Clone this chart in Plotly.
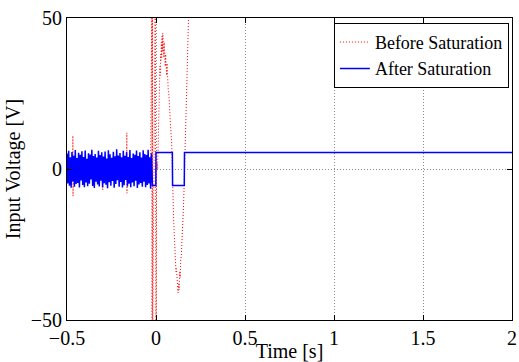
import numpy as np
import plotly.graph_objects as go

# ---------------- data ----------------
# Blue: saturated input (noise before t=-0.02, then switching +/-5.5)
blue_noise_vals = [
    5.1, -4.8, 6.0, -5.5, 3.9, -6.2, 5.6, -4.1, 4.4, -5.9, 6.3, -5.0, 3.6, -4.6, 5.4, -6.1,
    4.7, -3.8, 5.9, -5.3, 4.0, -6.0, 6.1, -4.5, 3.4, -5.7, 5.2, -4.9, 4.8, -3.5, 6.4, -5.6,
    4.3, -6.3, 5.0, -4.2, 3.8, -5.1, 6.0, -5.8, 4.6, -3.9, 5.5, -6.0, 4.1, -4.7, 5.8, -5.2,
    3.5, -6.4, 6.2, -4.4, 4.9, -5.5, 3.7, -4.0, 5.7, -6.2, 4.2, -5.0, 6.5, -3.7, 4.5, -5.9,
    5.3, -4.3, 3.9, -6.1, 6.0, -5.4, 4.4, -3.6, 5.6, -5.8, 4.0, -4.9, 6.3, -6.0, 3.6, -4.5,
    5.1, -5.7, 4.7, -3.9, 6.1, -6.3, 4.3, -5.1, 5.5, -4.6, 3.8, -5.9, 6.2, -4.2, 5.0, -6.0,
    4.6, -5.3, 6.4, -4.8, 3.9, -6.5, 5.2, -5.4,
]
blue_noise_t = np.linspace(-0.5, -0.021, len(blue_noise_vals))
blue_step_t = [-0.020, -0.001, 0.000, 0.092, 0.093, 0.159, 0.160, 2.0]
blue_step_v = [-5.5, -5.5, 5.5, 5.5, -5.5, -5.5, 5.5, 5.5]

# Red: input before saturation
red_t = [
    -0.5, -0.468, -0.467, -0.466, -0.465, -0.300, -0.299, -0.298, -0.165, -0.164, -0.163,
    -0.162, -0.030, -0.023, -0.022, -0.020, -0.019, -0.004, -0.003, -0.001, 0.000,
    0.003, 0.006, 0.009, 0.012, 0.014, 0.016, 0.018, 0.020, 0.022, 0.024, 0.026, 0.028,
    0.030, 0.032, 0.034, 0.036, 0.038, 0.040, 0.042, 0.044, 0.046, 0.048, 0.050, 0.052,
    0.054, 0.056, 0.058, 0.060, 0.062, 0.064, 0.066, 0.069, 0.072, 0.076, 0.080, 0.084,
    0.088, 0.091, 0.094, 0.097, 0.100, 0.103, 0.106, 0.109, 0.112, 0.115, 0.118, 0.121,
    0.124, 0.127, 0.130, 0.133, 0.136, 0.139, 0.142, 0.145, 0.148, 0.151, 0.154, 0.157,
    0.160, 0.163, 0.166, 0.169, 0.172, 0.175, 0.178, 0.181, 0.185, 0.190, 0.200,
]
red_v = [
    0, 2, 11, -9, 1, 0, -7, 1, 0, 12, -8,
    0, 0, 60, -60, 60, -60, 60, -60, 60, -60,
    -2, 2, 0, 7, 5, 15, 20, 28, 34, 31, 38, 36,
    42, 37, 44, 39, 45, 40, 43, 37, 42, 36, 40, 34,
    38, 33, 36, 31, 35, 30, 33, 26, 25, 19, 18, 12,
    9, 4, -6, -12, -18, -22, -28, -30, -34, -33, -37, -36,
    -41, -38, -40, -34, -36, -30, -29, -25, -22, -17, -13, -8,
    -1, 8, 14, 22, 28, 36, 42, 50, 58, 66, 80,
]

x_ticks = [-0.5, 0, 0.5, 1, 1.5, 2]
x_tick_text = ["\u22120.5", "0", "0.5", "1", "1.5", "2"]
y_ticks = [-50, 0, 50]
y_tick_text = ["\u221250", "0", "50"]

blue_t = list(blue_noise_t) + blue_step_t
blue_v = blue_noise_vals + blue_step_v

# ---------------- figure ----------------
font = dict(family="Liberation Serif", size=20, color="black")

fig = go.Figure()
fig.add_trace(go.Scatter(
    x=red_t, y=red_v, mode="lines", name="Before Saturation",
    line=dict(color="#ff0000", width=1, dash="1px,2px"),
))
fig.add_trace(go.Scatter(
    x=blue_t, y=blue_v, mode="lines", name="After Saturation",
    line=dict(color="#0000ff", width=1.5),
))

axis_common = dict(
    showline=True, linecolor="black", linewidth=1, mirror="ticks",
    ticks="inside", ticklen=5, tickcolor="black", tickwidth=1,
    showgrid=True, gridcolor="rgba(0,0,0,0.45)", gridwidth=1, griddash="1px,2px",
    zeroline=False, tickfont=font, automargin=False, ticklabeloverflow="allow",
)

fig.update_xaxes(
    range=[-0.5, 2], tickvals=x_ticks, ticktext=x_tick_text,
    title=dict(text="Time [s]", font=font, standoff=0),
    **axis_common,
)
fig.update_yaxes(
    range=[-50, 50], tickvals=y_ticks, ticktext=y_tick_text,
    title=dict(text="Input Voltage [V]", font=font, standoff=4),
    **axis_common,
)

fig.update_layout(
    width=519, height=362,
    margin=dict(l=67, r=7, t=18, b=42),
    paper_bgcolor="white", plot_bgcolor="white",
    font=font,
    showlegend=True,
    legend=dict(
        x=0.993, y=0.984, xanchor="right", yanchor="top",
        bgcolor="white", bordercolor="black", borderwidth=1,
        font=dict(family="Liberation Serif", size=18, color="black"),
        itemwidth=30, tracegroupgap=0,
    ),
)

fig.write_html(
    "out.html",
    config={"displayModeBar": False},
    post_script="document.body.style.margin='0px';",
)
